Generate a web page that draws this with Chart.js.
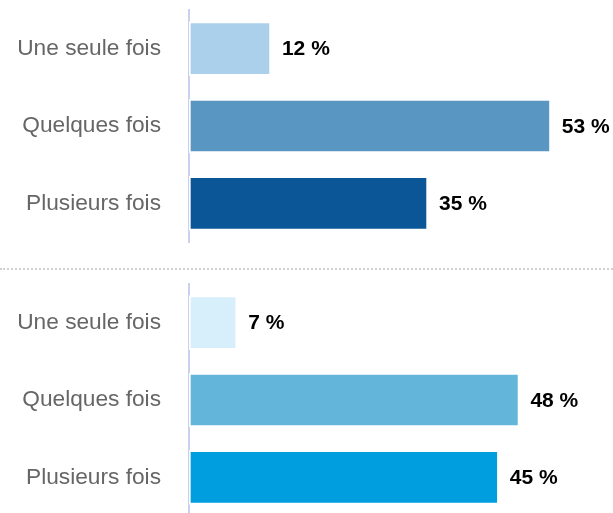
<!DOCTYPE html>
<html>
<head>
<meta charset="utf-8">
<script src="https://cdn.jsdelivr.net/npm/chart.js@4/dist/chart.umd.min.js"></script>
<style>
html,body{margin:0;padding:0;background:#fff;overflow:hidden;width:613px;height:513px;}
canvas{display:block;}
#c1{position:absolute;left:0;top:0;}
#c2{position:absolute;left:0;top:269px;}
#sep{position:absolute;left:0;top:268px;width:613px;height:0;border-top:2px dotted #d0d0d0;}
</style>
</head>
<body>
<canvas id="c1" width="613" height="269" style="width:613px;height:269px"></canvas>
<div id="sep"></div>
<canvas id="c2" width="613" height="248" style="width:613px;height:248px"></canvas>
<script>
const categories = ["Une seule fois", "Quelques fois", "Plusieurs fois"];
const valuesTop = [12, 53, 35];
const valuesBottom = [7, 48, 45];
const colorsTop = ["#abd0eb", "#5a96c2", "#0a5697"];
const colorsBottom = ["#d7effa", "#63b6da", "#009ddf"];

const valueLabels = {
  id: 'valueLabels',
  afterDatasetsDraw(chart) {
    const ctx = chart.ctx;
    const meta = chart.getDatasetMeta(0);
    const data = chart.data.datasets[0].data;
    ctx.save();
    ctx.font = 'bold 21px "Liberation Sans", Arial, sans-serif';
    ctx.fillStyle = '#000';
    ctx.textAlign = 'left';
    ctx.textBaseline = 'middle';
    meta.data.forEach((bar, i) => {
      ctx.fillText(data[i] + ' %', bar.x + 11, bar.y + 1);
    });
    ctx.restore();
  }
};

function makeChart(id, values, colors, padTop, padBottom, xmax) {
  return new Chart(document.getElementById(id), {
    type: 'bar',
    data: {
      labels: categories,
      datasets: [{
        data: values,
        backgroundColor: colors,
        borderColor: '#ffffff',
        borderWidth: 2,
        borderSkipped: false,
        barThickness: 54
      }]
    },
    options: {
      indexAxis: 'y',
      responsive: false,
      devicePixelRatio: 1,
      animation: false,
      layout: { padding: { top: padTop, bottom: padBottom, left: 0, right: 0 } },
      plugins: { legend: { display: false }, tooltip: { enabled: false } },
      scales: {
        x: { display: false, min: 0, max: xmax },
        y: {
          afterFit(scale) {
            scale.width = 189;
            scale.paddingTop = 0;
            scale.paddingBottom = 0;
          },
          grid: { display: false, drawTicks: false },
          border: { display: true, color: '#c9d1ef', width: 2 },
          ticks: {
            color: '#666666',
            padding: 28,
            font: { family: '"Liberation Sans", Arial, sans-serif', size: 22.7 }
          }
        }
      }
    },
    plugins: [valueLabels]
  });
}

makeChart('c1', valuesTop, colorsTop, 10, 27, 62.1);
makeChart('c2', valuesBottom, colorsBottom, 15, 1, 61.6);
</script>
</body>
</html>
